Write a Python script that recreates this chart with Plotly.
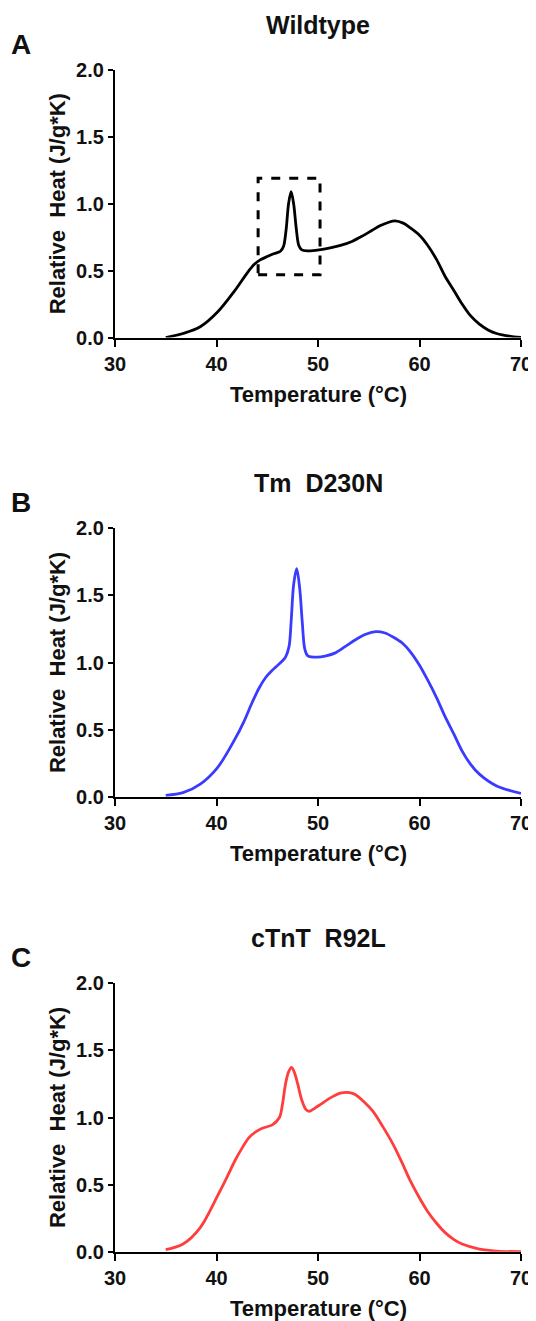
import plotly.graph_objects as go

# DSC traces (temperature in C, relative heat J/g*K)

wt_temp = [35, 36.7, 38.4, 40.1, 41.8, 43.0, 43.7, 44.3, 45.0, 45.7, 46.3, 46.6, 46.85, 47.1,
           47.35, 47.6, 47.85, 48.1, 48.4, 49.0, 50.1, 51.2, 52.3, 53.4, 54.4, 55.3, 56.1,
           56.9, 57.6, 58.4, 59.1, 60.0, 60.8, 61.7, 62.5, 63.4, 64.2, 65.0, 65.9, 66.8,
           67.6, 69.3, 70]
wt_heat = [0.0, 0.03, 0.08, 0.19, 0.35, 0.48, 0.545, 0.58, 0.605, 0.628, 0.645, 0.68, 0.80,
           1.00, 1.09, 1.00, 0.82, 0.69, 0.655, 0.648, 0.655, 0.67, 0.69, 0.72, 0.76, 0.80,
           0.835, 0.86, 0.872, 0.855, 0.82, 0.765, 0.69, 0.58, 0.46, 0.35, 0.25, 0.165, 0.10,
           0.055, 0.03, 0.005, 0.0]

tm_temp = [35, 36.7, 38.4, 40.1, 41.8, 42.7, 43.5, 44.2, 44.86, 45.4, 45.9, 46.4, 46.8,
           47.15, 47.35, 47.6, 47.9, 48.2, 48.45, 48.7, 49.0, 49.95, 50.8, 51.65, 52.7,
           53.7, 54.7, 55.7, 56.6, 57.4, 58.3, 59.1, 60.0, 60.8, 61.7, 62.5, 63.4, 64.2,
           65.0, 65.9, 67.6, 70]
tm_heat = [0.01, 0.03, 0.094, 0.217, 0.427, 0.56, 0.70, 0.81, 0.89, 0.935, 0.97, 1.005, 1.04,
           1.12, 1.30, 1.58, 1.70, 1.55, 1.30, 1.10, 1.05, 1.04, 1.05, 1.07, 1.12,
           1.17, 1.21, 1.23, 1.22, 1.19, 1.145, 1.08, 0.98, 0.87, 0.735, 0.60, 0.465, 0.34,
           0.245, 0.168, 0.08, 0.025]

tnt_temp = [35, 36.7, 38.4, 40.1, 41.0, 41.8, 42.5, 43.2, 43.9, 44.5, 45.5, 46.2, 46.5,
            46.8, 47.1, 47.4, 47.7, 48.0, 48.4, 48.8, 49.1, 49.7, 50.3, 51.3, 52.3, 53.1,
            53.7, 54.5, 55.4, 56.4, 57.4, 58.3, 59.1, 60.0, 60.8, 61.7, 62.5, 63.4, 64.2,
            65.9, 67.6, 70]
tnt_heat = [0.015, 0.057, 0.18, 0.416, 0.55, 0.676, 0.77, 0.85, 0.895, 0.92, 0.945, 1.0, 1.1,
            1.25, 1.34, 1.374, 1.33, 1.25, 1.13, 1.06, 1.045, 1.07, 1.10, 1.15, 1.183, 1.185,
            1.17, 1.12, 1.047, 0.93, 0.80, 0.66, 0.527, 0.40, 0.30, 0.21, 0.144, 0.09, 0.057,
            0.02, 0.005, 0.0]

panels = [
    ("A", "Wildtype", wt_temp, wt_heat, "black"),
    ("B", "Tm\u00a0 D230N", tm_temp, tm_heat, "#3b3bff"),
    ("C", "cTnT\u00a0 R92L", tnt_temp, tnt_heat, "#ff3d3d"),
]

x_ticks = [30, 40, 50, 60, 70]
y_ticks = [0.0, 0.5, 1.0, 1.5, 2.0]

# zoom box around the sharp transition in the wildtype trace
box_x = [44.1, 50.2]
box_y = [0.47, 1.19]

# the page puts the figure 8px in from the top-left corner, so shrink the figure
# and work in window pixels minus that offset
OFF = 8
W, H = 536 - OFF, 1321 - OFF
# plot area edges in window pixels (top, bottom) for each panel
rows_px = [(70, 337.5), (528.3, 796.7), (983.3, 1251.7)]
left_px, right_px = 115, 521

def px(p):
    return (p - OFF) / W

def py(p):
    return 1 - (p - OFF) / H

FONT = "Liberation Sans, Arial, sans-serif"

fig = go.Figure()
annotations = []

for i, (letter, title, temp, heat, color) in enumerate(panels):
    n = "" if i == 0 else str(i + 1)
    top, bot = rows_px[i]
    fig.add_trace(go.Scatter(
        x=temp, y=heat, mode="lines",
        line=dict(color=color, width=2.8, shape="spline", smoothing=0.9),
        xaxis="x" + n, yaxis="y" + n, showlegend=False, hoverinfo="x+y"))

    axis_common = dict(
        showgrid=False, zeroline=False, showline=True, linecolor="black", linewidth=2.2,
        ticks="outside", tickwidth=2.2, tickcolor="black", automargin=False,
        tickfont=dict(family=FONT, size=20, color="#111", weight="bold"),
    )
    fig.update_layout(**{
        "xaxis" + n: dict(axis_common, domain=[px(left_px), px(right_px)], range=[30, 70],
                          tickvals=x_ticks, ticklen=7, anchor="y" + n),
        "yaxis" + n: dict(axis_common, domain=[py(bot), py(top)], range=[0, 2],
                          tickvals=y_ticks, tickformat=".1f", ticklen=5, anchor="x" + n),
    })

    cx = px((left_px + right_px) / 2)
    mid = dict(xref="paper", yref="paper", showarrow=False,
               xanchor="center", yanchor="middle")
    annotations += [
        dict(mid, text=title, x=cx, y=py(top - 45),
             font=dict(family=FONT, size=25, color="#111", weight="bold")),
        dict(mid, text=letter, x=px(21), y=py(top - 26),
             font=dict(family=FONT, size=28, color="#111", weight="bold")),
        dict(mid, text="Temperature (°C)", x=cx, y=py(bot + 57),
             font=dict(family=FONT, size=22, color="#111", weight="bold")),
        dict(mid, text="Relative\u00a0 Heat (J/g*K)", x=px(57.6), y=py((top + bot) / 2),
             textangle=-90, font=dict(family=FONT, size=22, color="#111", weight="bold")),
    ]

fig.add_shape(type="rect", xref="x", yref="y", x0=box_x[0], x1=box_x[1],
              y0=box_y[0], y1=box_y[1], line=dict(color="black", width=3, dash="dash"))

fig.update_layout(
    width=W, height=H, margin=dict(l=0, r=0, t=0, b=0),
    paper_bgcolor="white", plot_bgcolor="white",
    annotations=annotations, showlegend=False,
)

fig.write_html("out.html")
